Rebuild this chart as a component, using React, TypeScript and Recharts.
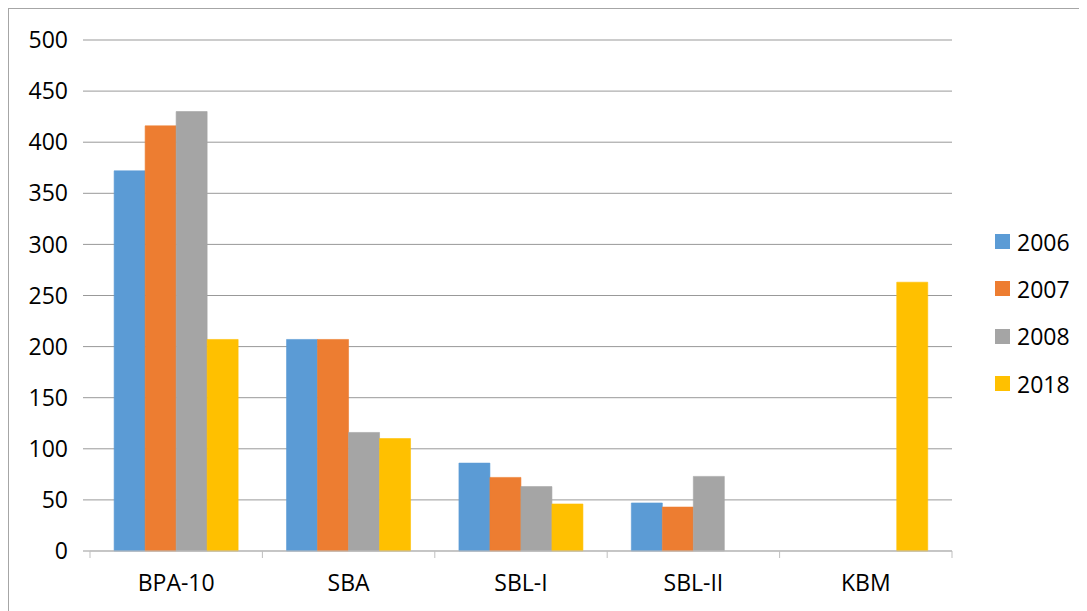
import React from 'react';
import { BarChart, Bar, XAxis, YAxis, CartesianGrid } from 'recharts';

const categories = ['BPA-10', 'SBA', 'SBL-I', 'SBL-II', 'KBM'];
const series2006 = [372, 207, 86, 47, null];
const series2007 = [416, 207, 72, 43, null];
const series2008 = [430, 116, 63, 73, null];
const series2018 = [207, 110, 46, null, 263];
const yTicks = [0, 50, 100, 150, 200, 250, 300, 350, 400, 450, 500];

const seriesDefs = [
  { key: 'y2006', name: '2006', color: '#5b9bd5', values: series2006 },
  { key: 'y2007', name: '2007', color: '#ed7d31', values: series2007 },
  { key: 'y2008', name: '2008', color: '#a5a5a5', values: series2008 },
  { key: 'y2018', name: '2018', color: '#ffc000', values: series2018 },
];

const data = categories.map((c, i) => {
  const row: Record<string, any> = { name: c };
  seriesDefs.forEach((s) => {
    row[s.key] = s.values[i];
  });
  return row;
});

const W = 1077;
const H = 602;
const MARGIN = { top: 31, right: 134, bottom: 10, left: 11 };
const Y_WIDTH = 70;
const PLOT_W = W - MARGIN.left - MARGIN.right - Y_WIDTH;
const STEP = PLOT_W / categories.length;
const FONT = '"Open Sans", sans-serif';

const XTick = (props: any) => {
  const { x, y, payload, index } = props;
  const isLast = index === categories.length - 1;
  return (
    <g>
      <line x1={x - STEP / 2} y1={y} x2={x - STEP / 2} y2={y + 7} stroke="#bfbfbf" strokeWidth={1} />
      {isLast && (
        <line x1={x + STEP / 2} y1={y} x2={x + STEP / 2} y2={y + 7} stroke="#bfbfbf" strokeWidth={1} />
      )}
      <text x={x} y={y + 40} textAnchor="middle" fontFamily={FONT} fontSize={23} fill="#000">
        {payload.value}
      </text>
    </g>
  );
};

const LegendBox = () => (
  <div
    style={{
      position: 'absolute',
      left: 986,
      top: 209,
      fontFamily: FONT,
      fontSize: 23,
      color: '#000',
    }}
  >
    {seriesDefs.map((s) => (
      <div key={s.key} style={{ display: 'flex', alignItems: 'center', height: 47.3 }}>
        <div style={{ width: 15, height: 15, background: s.color, marginRight: 7 }} />
        <span>{s.name}</span>
      </div>
    ))}
  </div>
);

export default function App() {
  return (
    <div
      style={{
        position: 'relative',
        width: W,
        height: H,
        borderTop: '1px solid #a6a6a6',
        borderLeft: '1px solid #a6a6a6',
        background: '#fff',
      }}
    >
      <BarChart
        width={W}
        height={H}
        data={data}
        margin={MARGIN}
        barCategoryGap="14%"
        barGap={0}
      >
        <CartesianGrid horizontal={true} vertical={false} stroke="#999999" strokeWidth={1} />
        <XAxis
          dataKey="name"
          axisLine={{ stroke: '#bfbfbf' }}
          tickLine={false}
          tickSize={0}
          tickMargin={0}
          height={50}
          tick={<XTick />}
          interval={0}
        />
        <YAxis
          width={Y_WIDTH}
          domain={[0, 500]}
          ticks={yTicks}
          axisLine={false}
          tickLine={{ stroke: '#999999' }}
          tickSize={7}
          tickMargin={15}
          tick={{ fontFamily: FONT, fontSize: 23, fill: '#000' }}
          interval={0}
        />
        {seriesDefs.map((s) => (
          <Bar
            key={s.key}
            dataKey={s.key}
            name={s.name}
            fill={s.color}
            stroke={s.color}
            strokeWidth={0.6}
            isAnimationActive={false}
          />
        ))}
      </BarChart>
      <LegendBox />
    </div>
  );
}
